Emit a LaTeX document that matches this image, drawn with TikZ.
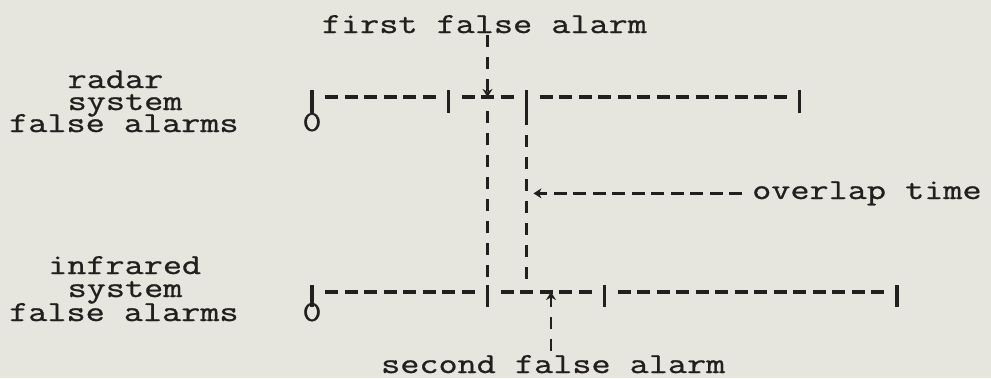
\documentclass[tikz,border=0pt]{standalone}
\usepackage{fontspec}
% typewriter face: Latin Modern Mono widened to a 19.5pt character pitch
\newfontfamily\tw[FakeStretch=1.28, FakeBold=0.9]{Latin Modern Mono}
\usetikzlibrary{arrows.meta}
\definecolor{ink}{RGB}{34,31,31}
\definecolor{paper}{RGB}{230,230,222}
\tikzset{
  lbl/.style={font=\tw\fontsize{29}{30}\selectfont, inner sep=0pt, text=ink},
  % typed dash runs along the time axes (one dash per 19.5pt character cell)
  hdash/.style={draw=ink, line width=3.4pt, dash pattern=on 13pt off 6.5pt,
                shorten <=13pt, shorten >=13pt},
  % vertical marks made of short strokes
  vdash/.style={draw=ink, line width=2.4pt, dash pattern=on 12pt off 10pt},
  tickmark/.style={draw=ink, line width=3.8pt},
  tip/.style={-{Stealth[length=8pt,width=10pt]}}
}
\begin{document}
\begin{tikzpicture}[x=1pt,y=-1pt]
\fill[paper] (0,0) rectangle (991,378);
\useasboundingbox (0,0) rectangle (991,378);

% ---- side labels ----
\node[lbl, anchor=base west] (rad1) at (67.5,88)  {radar};
\node[lbl, anchor=base west] (rad2) at (67.5,110) {system};
\node[lbl, anchor=base west] (rad3) at (9,132)    {false alarms};
\node[lbl, anchor=base west] (ir1)  at (48,274)   {infrared};
\node[lbl, anchor=base west] (ir2)  at (67.5,297) {system};
\node[lbl, anchor=base west] (ir3)  at (9,321)    {false alarms};

% ---- radar time axis ----
\coordinate (a0)  at (312,97);
\coordinate (a7)  at (448.5,97);
\coordinate (fa)  at (487.5,97);
\coordinate (a11) at (526.5,97);
\coordinate (a25) at (799.5,97);
\node[lbl, anchor=base] (z1) at (312,131) {0};
\path[hdash] (a0) -- (a7);
\path[hdash] (a7) -- (a11);
\path[hdash] (a11) -- (a25);
\foreach \t in {a0,a7,a11,a25}
  \draw[tickmark] ([yshift=7pt]\t) -- ([yshift=-16pt]\t);

% ---- infrared time axis ----
\coordinate (b0)  at (312,292);
\coordinate (b9)  at (487.5,292);
\coordinate (sa)  at (551,292);
\coordinate (b15) at (604.5,292);
\coordinate (b30) at (897,292);
\node[lbl, anchor=base] (z2) at (312,321) {0};
\path[hdash] (b0) -- (b9);
\path[hdash] (b9) -- (b15);
\path[hdash] (b15) -- (b30);
\foreach \t in {b0,b9,b15,b30}
  \draw[tickmark] ([yshift=7pt]\t) -- ([yshift=-15pt]\t);

% ---- false alarm labels and arrows ----
\node[lbl, anchor=base west] (first)  at (321.75,33) {first false alarm};
\node[lbl, anchor=base west] (second) at (381,373)   {second false alarm};
\draw[vdash, tip, shorten <=2pt] (fa |- first.south) -- (fa);
\draw[vdash, tip, shorten <=4pt] (sa |- second.north) -- (sa);

% ---- vertical drop lines bounding the overlap ----
\draw[vdash, shorten <=14pt, shorten >=7pt] (fa) -- (b9);
\draw[vdash, shorten <=16pt, shorten >=12pt] (a11) -- (a11 |- b0);

% ---- overlap time pointer ----
\node[lbl, anchor=base west] (overlap) at (752,199) {overlap time};
\coordinate (ovr) at (a11 |- overlap.west);
\draw[draw=ink, line width=3pt, dash pattern=on 13pt off 6.5pt, tip,
      shorten <=10pt, shorten >=7pt] (overlap.west) -- (ovr);
\end{tikzpicture}
\end{document}
